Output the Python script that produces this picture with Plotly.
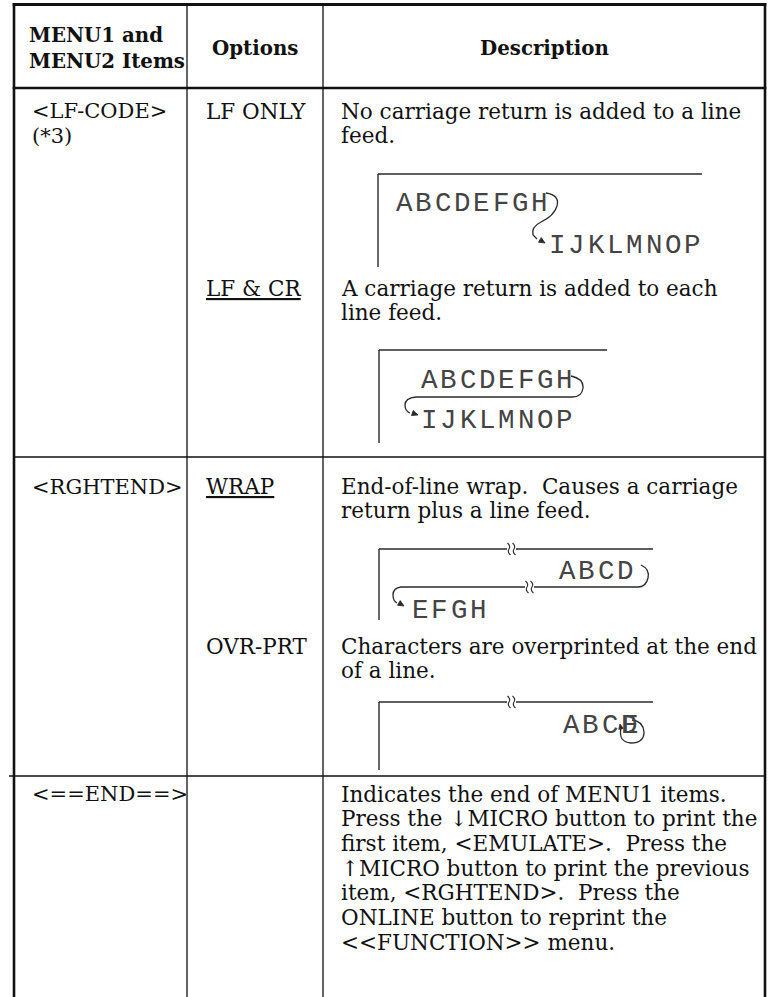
import html
import math
import plotly.graph_objects as go

W, H = 772, 997

# ---------------- content ----------------
header_items = ["MENU1 and", "MENU2 Items"]
header_options = "Options"
header_description = "Description"

menu_items = [["<LF-CODE>", "(*3)"], ["<RGHTEND>"], ["<==END==>"]]
options = ["LF ONLY", "LF & CR", "WRAP", "OVR-PRT", ""]
option_is_default = [False, True, True, False, False]
descriptions = [
    ["No carriage return is added to a line", "feed."],
    ["A carriage return is added to each", "line feed."],
    ["End-of-line wrap.  Causes a carriage", "return plus a line feed."],
    ["Characters are overprinted at the end", "of a line."],
    ["Indicates the end of MENU1 items.",
     "Press the \u2193MICRO button to print the",
     "first item, <EMULATE>.  Press the",
     "\u2191MICRO button to print the previous",
     "item, <RGHTEND>.  Press the",
     "ONLINE button to reprint the",
     "<<FUNCTION>> menu."],
]
diagram_texts = [
    ["ABCDEFGH", "IJKLMNOP"],
    ["ABCDEFGH", "IJKLMNOP"],
    ["ABCD", "EFGH"],
    ["ABCD"],
]

# ---------------- layout constants ----------------
SERIF = "DejaVu Serif"
MONO = "Liberation Mono"
FS = 21.5
FS_HEAD = 19.8
LINE = 24.7
MONO_FS = 27.5
MONO_ADV = 19.3
MONO_COLOR = "#444444"

X_L, X_C1, X_C2, X_R = 14, 187, 323, 765
Y_T, Y_HEAD, Y_R1, Y_R2 = 4.5, 88, 457, 776

item_y = [111, 487, 794]
option_y = [111, 288, 486, 646, 794]
X_ITEM, X_OPT, X_DESC = 30, 204, 339

INK = "#111111"
DIAG = "#2a2a2a"


def esc(s):
    s = s.replace("  ", " \u00a0")
    return html.escape(s, quote=False)


fig = go.Figure()
fig.add_trace(go.Scatter(x=[0, W], y=[0, H], mode="markers",
                         marker=dict(opacity=0), hoverinfo="skip",
                         showlegend=False))

shapes = []


def line(x0, y0, x1, y1, w=1.3, color=INK):
    shapes.append(dict(type="line", xref="x", yref="y", x0=x0, y0=y0,
                       x1=x1, y1=y1, line=dict(color=color, width=w)))


def path(d, w=1.3, color=DIAG, fill=None):
    s = dict(type="path", xref="x", yref="y", path=d,
             line=dict(color=color, width=w))
    if fill:
        s["fillcolor"] = fill
    shapes.append(s)


def arrowhead(tx, ty, dx, dy, size=6):
    n = math.hypot(dx, dy)
    ux, uy = dx / n, dy / n
    px, py = -uy, ux
    bx, by = tx - ux * size, ty - uy * size
    d = (f"M {tx},{ty} L {bx + px * size * 0.45},{by + py * size * 0.45} "
         f"L {bx - px * size * 0.45},{by - py * size * 0.45} Z")
    path(d, w=0.8, color=DIAG, fill=DIAG)


def squiggle(x, y):
    path(f"M {x - 1.5},{y - 6} Q {x + 2},{y - 3} {x},{y} Q {x - 2},{y + 3} {x + 1.5},{y + 6}",
         w=1.1)


# ---------------- table frame ----------------
line(X_L, Y_T - 1.5, X_L, H, w=2.6)
line(X_R, Y_T - 1.5, X_R, H, w=2.6)
line(X_L - 1.3, Y_T, X_R + 1.3, Y_T, w=2.8)
line(X_L - 1.3, Y_HEAD, X_R + 1.3, Y_HEAD, w=2.6)
line(X_C1, Y_T, X_C1, H, w=1.3)
line(X_C2, Y_T, X_C2, H, w=1.3)
line(X_L, Y_R1, X_R, Y_R1, w=1.4)
line(X_L - 5, Y_R2, X_R, Y_R2, w=1.4)

annotations = []


def text(x, y, s, size=FS, bold=False, anchor="left", family=SERIF, color=INK):
    t = esc(s)
    if bold:
        t = "<b>" + t + "</b>"
    annotations.append(dict(x=x, y=y, xref="x", yref="y", text=t,
                            showarrow=False, xanchor=anchor, yanchor="middle",
                            font=dict(family=family, size=size, color=color)))


def mono(x0, y, s):
    for i, ch in enumerate(s):
        annotations.append(dict(x=x0 + MONO_ADV * (i + 0.5), y=y, xref="x", yref="y",
                                text=html.escape(ch), showarrow=False,
                                xanchor="center", yanchor="middle",
                                font=dict(family=MONO, size=MONO_FS, color=MONO_COLOR)))


# ---------------- header ----------------
text(27, 35, header_items[0], size=FS_HEAD, bold=True)
text(27, 61, header_items[1], size=FS_HEAD, bold=True)
text((X_C1 + X_C2) / 2, 48, header_options, size=FS_HEAD, bold=True, anchor="center")
text((X_C2 + X_R) / 2, 48, header_description, size=FS_HEAD, bold=True, anchor="center")

# ---------------- body text ----------------
for lines_, y0 in zip(menu_items, item_y):
    for k, s in enumerate(lines_):
        text(X_ITEM, y0 + k * LINE, s, size=FS - 0.5)

for opt, dflt, y0 in zip(options, option_is_default, option_y):
    if opt:
        t = esc(opt)
        if dflt:
            t = "<u>" + t + "</u>"
        annotations.append(dict(x=X_OPT, y=y0, xref="x", yref="y", text=t,
                                showarrow=False, xanchor="left", yanchor="middle",
                                font=dict(family=SERIF, size=FS, color=INK)))

for lines_, y0 in zip(descriptions, option_y):
    for k, s in enumerate(lines_):
        text(X_DESC, y0 + k * LINE, s)

# ---------------- diagrams ----------------
# A : LF ONLY
line(378, 174, 702, 174, w=1.4, color=DIAG)
line(378, 174, 378, 267, w=1.4, color=DIAG)
mono(395, 203, diagram_texts[0][0])
mono(548, 245, diagram_texts[0][1])
path("M 546,193 Q 560,195 557,206 Q 554,216 541,222 Q 531,227 533,235 L 537,239")
arrowhead(545, 243, 1, 0.6)

# B : LF & CR
line(379, 350, 607, 350, w=1.4, color=DIAG)
line(379, 350, 379, 443, w=1.4, color=DIAG)
mono(420, 380, diagram_texts[1][0])
mono(420, 420, diagram_texts[1][1])
path("M 571,376 Q 584,379 583,388 Q 582,397 572,397 L 416,397 Q 405,398 405,405 Q 405,411 410,413")
arrowhead(418, 415, 1, 0.35)

# C : WRAP
line(379, 549, 507, 549, w=1.4, color=DIAG)
line(516, 549, 653, 549, w=1.4, color=DIAG)
squiggle(509, 549)
squiggle(514, 549)
line(379, 549, 379, 620, w=1.4, color=DIAG)
mono(558, 571, diagram_texts[2][0])
mono(411, 610, diagram_texts[2][1])
path("M 641,565 Q 650,569 648,578 Q 646,587 638,587 L 534,587")
path("M 525,587 L 401,587 Q 393,588 393,595 Q 393,601 397,603")
squiggle(527, 587)
squiggle(532, 587)
arrowhead(404, 606, 1, 0.6)

# D : OVR-PRT
line(379, 702, 507, 702, w=1.4, color=DIAG)
line(516, 702, 653, 702, w=1.4, color=DIAG)
squiggle(509, 702)
squiggle(514, 702)
line(379, 702, 379, 770, w=1.4, color=DIAG)
mono(562, 725, diagram_texts[3][0][:3])
mono(562 + 3 * MONO_ADV, 725, diagram_texts[3][0][3])
mono(562 + 3 * MONO_ADV + 1, 725, "E")
path("M 621,728 Q 618,742 631,743 Q 644,743 644,732 Q 643,721 632,720")
arrowhead(620, 724, -0.2, -1, size=5)

fig.update_layout(
    width=W, height=H,
    margin=dict(l=0, r=0, t=0, b=0),
    paper_bgcolor="white", plot_bgcolor="white",
    xaxis=dict(range=[0, W], visible=False, fixedrange=True),
    yaxis=dict(range=[H, 0], visible=False, fixedrange=True),
    shapes=shapes, annotations=annotations,
    showlegend=False,
)

fig.write_html("out.html", config={"displayModeBar": False},
               post_script="document.body.style.margin='0';document.body.style.overflow='hidden';")
